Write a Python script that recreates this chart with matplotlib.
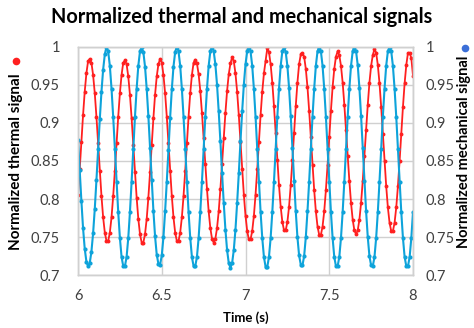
import numpy as np
import matplotlib
matplotlib.use("Agg")
import matplotlib.pyplot as plt
from matplotlib.lines import Line2D

# signals sampled at 100 Hz between 6 s and 8 s
time_s = np.linspace(6, 8, 201)

thermal = [
    0.806, 0.839, 0.875, 0.910, 0.941, 0.965, 0.981,
    0.984, 0.979, 0.963, 0.939, 0.908, 0.873, 0.837, 0.804, 0.776, 0.756, 0.745,
    0.745, 0.756, 0.776, 0.804, 0.837, 0.873, 0.908, 0.939, 0.963, 0.979,
    0.982, 0.977, 0.961, 0.937, 0.906, 0.871, 0.835, 0.802, 0.774, 0.754, 0.743,
    0.743, 0.754, 0.774, 0.802, 0.835, 0.871, 0.906, 0.937, 0.961, 0.977,
    0.984, 0.979, 0.963, 0.939, 0.908, 0.873, 0.837, 0.804, 0.776, 0.756, 0.745,
    0.745, 0.756, 0.776, 0.804, 0.837, 0.873, 0.908, 0.939, 0.963, 0.979,
    0.983, 0.978, 0.964, 0.942, 0.913, 0.880, 0.846, 0.813, 0.784, 0.762, 0.748,
    0.743, 0.748, 0.762, 0.784, 0.813, 0.846, 0.880, 0.913, 0.942, 0.964, 0.978,
    0.986, 0.981, 0.965, 0.941, 0.910, 0.875, 0.839, 0.806, 0.778, 0.758, 0.747,
    0.747, 0.758, 0.778, 0.806, 0.839, 0.875, 0.910, 0.941, 0.965, 0.981,
    0.998, 0.993, 0.977, 0.953, 0.922, 0.887, 0.851, 0.818, 0.790, 0.770, 0.759,
    0.759, 0.770, 0.790, 0.818, 0.851, 0.887, 0.922, 0.953, 0.977, 0.990,
    0.992, 0.987, 0.971, 0.947, 0.916, 0.881, 0.845, 0.812, 0.784, 0.764, 0.753,
    0.753, 0.764, 0.784, 0.812, 0.845, 0.881, 0.916, 0.947, 0.971, 0.987,
    0.994, 0.989, 0.975, 0.953, 0.924, 0.891, 0.857, 0.824, 0.795, 0.773, 0.759,
    0.754, 0.759, 0.773, 0.795, 0.824, 0.857, 0.891, 0.924, 0.953, 0.975, 0.989,
    0.997, 0.992, 0.976, 0.952, 0.921, 0.886, 0.850, 0.817, 0.789, 0.769, 0.758,
    0.758, 0.769, 0.789, 0.817, 0.850, 0.886, 0.921, 0.952, 0.976, 0.992,
    0.992, 0.985, 0.962,
]

mechanical = [
    0.878, 0.838, 0.798, 0.762, 0.735, 0.718, 0.712, 0.716, 0.731, 0.755, 0.787,
    0.825, 0.866, 0.905, 0.941, 0.970, 0.990,
    1.000, 0.994, 0.975, 0.945, 0.908, 0.866, 0.823, 0.783, 0.749, 0.724, 0.712,
    0.712, 0.724, 0.749, 0.783, 0.823, 0.866, 0.908, 0.945, 0.975, 0.994,
    0.999, 0.993, 0.974, 0.945, 0.909, 0.867, 0.825, 0.785, 0.751, 0.727, 0.715,
    0.714, 0.726, 0.750, 0.784, 0.823, 0.865, 0.907, 0.944, 0.974, 0.993,
    1.000, 0.994, 0.975, 0.945, 0.908, 0.866, 0.823, 0.783, 0.749, 0.724, 0.712,
    0.712, 0.724, 0.749, 0.783, 0.823, 0.866, 0.908, 0.945, 0.975, 0.994,
    1.000, 0.994, 0.977, 0.950, 0.915, 0.876, 0.834, 0.795, 0.760, 0.733, 0.716,
    0.710, 0.716, 0.733, 0.760, 0.795, 0.834, 0.876, 0.915, 0.950, 0.977, 0.994,
    1.000, 0.994, 0.975, 0.945, 0.908, 0.866, 0.823, 0.783, 0.749, 0.724, 0.711,
    0.711, 0.724, 0.749, 0.783, 0.823, 0.866, 0.908, 0.945, 0.975, 0.994,
    0.999, 0.993, 0.975, 0.946, 0.909, 0.867, 0.824, 0.784, 0.750, 0.726, 0.714,
    0.713, 0.725, 0.750, 0.784, 0.823, 0.866, 0.908, 0.945, 0.975, 0.994,
    1.000, 0.994, 0.975, 0.945, 0.908, 0.866, 0.823, 0.783, 0.749, 0.724, 0.712,
    0.712, 0.724, 0.749, 0.783, 0.823, 0.866, 0.908, 0.945, 0.975, 0.994,
    1.000, 0.994, 0.976, 0.946, 0.909, 0.867, 0.824, 0.784, 0.750, 0.725, 0.713,
    0.712, 0.724, 0.749, 0.783, 0.823, 0.866, 0.908, 0.945, 0.975, 0.994,
    1.000, 0.994, 0.975, 0.945, 0.908, 0.866, 0.823, 0.783, 0.749, 0.724, 0.712,
    0.712, 0.724, 0.749,
    0.783,
]

x_ticks = [6, 6.5, 7, 7.5, 8]
y_ticks = [0.7, 0.75, 0.8, 0.85, 0.9, 0.95, 1]

red = "#ff2020"
blue = "#0ea3da"
tick_col = "#404040"
grid_col = "#d0d0d0"

plt.rcParams["font.family"] = ["Lato", "DejaVu Sans"]

fig = plt.figure(figsize=(4.74, 3.28), dpi=100)
ax = fig.add_axes([0.1646, 0.1607, 0.7067, 0.6969])
ax2 = ax.twinx()

ax.plot(time_s, thermal, color=red, lw=1.3, marker="o", ms=2.8, mew=0)
ax2.plot(time_s, mechanical, color=blue, lw=1.5, marker="o", ms=3.0, mew=0)

for a in (ax, ax2):
    a.set_xlim(6, 8)
    a.set_ylim(0.7, 1)
    a.set_yticks(y_ticks)
    a.set_yticklabels(["%g" % v for v in y_ticks])
    for s in a.spines.values():
        s.set_color(grid_col)
        s.set_linewidth(1)

ax.set_xticks(x_ticks)
ax.set_xticklabels(["%g" % v for v in x_ticks])
ax.grid(True, color=grid_col, lw=1)
ax.set_axisbelow(True)
ax.tick_params(axis="both", length=0, labelsize=10.5, colors=tick_col)
ax.tick_params(axis="y", pad=13)
ax.tick_params(axis="x", pad=10)
ax2.tick_params(axis="y", length=0, labelsize=10.5, colors=tick_col, pad=9)

ax.set_xlabel("Time (s)", fontsize=9.5, fontweight="bold", labelpad=6)

fig.text(0.51, 0.947, "Normalized thermal and mechanical signals",
         ha="center", va="center", fontsize=14.3, fontweight="bold")
fig.text(0.033, 0.506, "Normalized thermal signal", rotation=90,
         ha="center", va="center", fontsize=11, fontweight="bold")
fig.text(0.978, 0.537, "Normalized mechanical signal", rotation=90,
         ha="center", va="center", fontsize=10.5, fontweight="bold")

# series markers next to the axis titles
fig.add_artist(Line2D([16 / 474], [1 - 61 / 328], marker="o", ms=5.5,
                      color=red, mew=0, transform=fig.transFigure))
fig.add_artist(Line2D([465 / 474], [1 - 48 / 328], marker="o", ms=5.5,
                      color="#3b6fd8", mew=0, transform=fig.transFigure))

fig.savefig("out.png", dpi=100)
